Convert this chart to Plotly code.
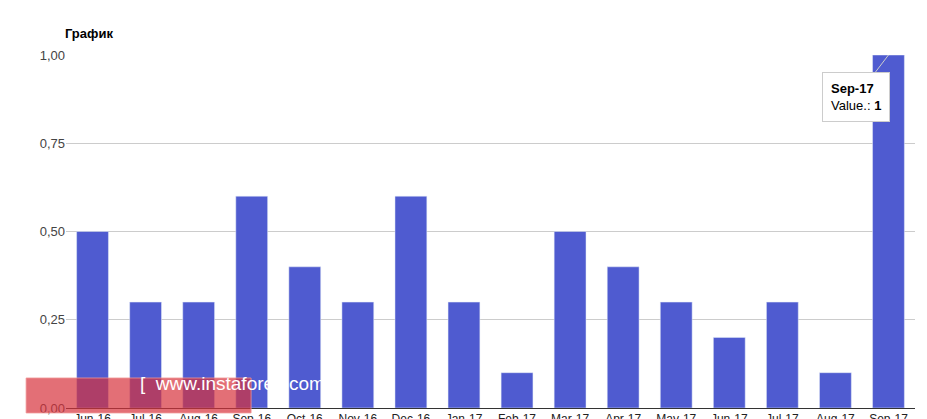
import plotly.graph_objects as go

months = ["Jun-16","Jul-16","Aug-16","Sep-16","Oct-16","Nov-16","Dec-16","Jan-17","Feb-17",
          "Mar-17","Apr-17","May-17","Jun-17","Jul-17","Aug-17","Sep-17"]
values = [0.5,0.3,0.3,0.6,0.4,0.3,0.6,0.3,0.1,0.5,0.4,0.3,0.2,0.3,0.1,1.0]
yticks = [0,0.25,0.5,0.75,1.0]
yticklabels = ["0,00","0,25","0,50","0,75","1,00"]

fig = go.Figure(go.Bar(x=months, y=values, marker_color="#4f5bd0", width=0.6))
fig.update_layout(
    width=927, height=419, margin=dict(l=58, r=20, t=47, b=19, autoexpand=False),
    paper_bgcolor="white", plot_bgcolor="white", showlegend=False,
    font=dict(family="Arial, Liberation Sans", size=12, color="#222"),
    xaxis=dict(showgrid=False, showline=True, linecolor="#333", automargin=False,
               tickfont=dict(size=12, color="#222")),
    yaxis=dict(range=[0,1], tickvals=yticks, ticktext=yticklabels, gridcolor="#cccccc", automargin=False,
               tickfont=dict(size=13, color="#444"), zeroline=False, ticks="", ticklen=8, tickcolor="white"),
)
fig.add_annotation(xref="paper", yref="paper", x=-0.003, y=1.035, xanchor="left", yanchor="bottom",
                   text="<b>График</b>", showarrow=False, font=dict(size=13, color="#000"))
fig.add_annotation(x=months[-1], y=values[-1], text="<b>Sep-17</b><br>Value.: <b>1</b>",
                   showarrow=True, arrowhead=0, arrowcolor="#cccccc", ax=-32, ay=42,
                   bgcolor="white", bordercolor="#cccccc", borderwidth=1, borderpad=8,
                   align="left", font=dict(size=13, color="#000"))
fig.add_shape(type="rect", xref="paper", yref="paper", x0=-0.047, x1=0.218, y0=-0.014, y1=0.085,
              layer="above", fillcolor="rgba(215,50,60,0.7)", line=dict(color="rgba(240,150,150,0.8)", width=1))
fig.add_annotation(xref="paper", yref="paper", x=0.085, y=0.035, showarrow=False,
                   text="[  www.instaforex.com ]", font=dict(size=19, color="white"))
fig.write_html("out.html")
